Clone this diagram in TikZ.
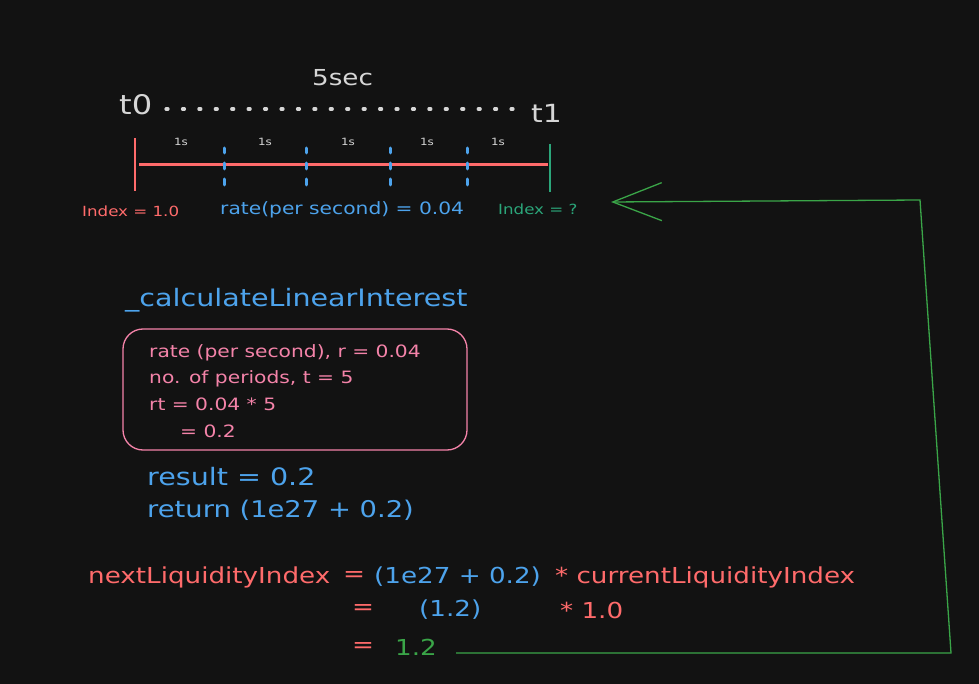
\documentclass[tikz,border=0pt]{standalone}
\usepackage{fontspec}
\setmainfont[FakeStretch=1.19]{DejaVu Sans}
\usetikzlibrary{arrows.meta}
\definecolor{bgc}{HTML}{121212}
\definecolor{wht}{HTML}{D6D6D6}
\definecolor{redc}{HTML}{FF6B6B}
\definecolor{bluc}{HTML}{4DA3EC}
\definecolor{tealc}{HTML}{2BA67A}
\definecolor{grnc}{HTML}{3AA548}
\definecolor{pinkc}{HTML}{F483A9}
\tikzset{
  txt/.style={inner sep=0pt, anchor=west},
  tick/.style={bluc, line width=3pt, line cap=round},
  conn/.style={grnc, line width=1.3pt},
  big/.style={font=\fontsize{22}{26}\selectfont},
  mid/.style={font=\fontsize{17}{20}\selectfont},
  sml/.style={font=\fontsize{14}{16}\selectfont},
}
\begin{document}
\begin{tikzpicture}[x=1pt,y=-1pt]
\fill[bgc] (0,0) rectangle (979,684);
\useasboundingbox (0,0) rectangle (979,684);

% timeline header
\node[txt, wht, font=\fontsize{22}{26}\selectfont] (fivesec) at (312,78) {5sec};
\node[txt, wht, font=\fontsize{27}{30}\selectfont] (t0) at (119,105) {t0};
\node[txt, wht, font=\fontsize{25}{28}\selectfont] (t1) at (531,113) {t1};
\foreach \i in {0,...,21} \draw[wht, line width=3.2pt, line cap=round] (166+\i*16.43,109) -- (168+\i*16.43,109);

% timeline
\coordinate (ra) at (135,138); \coordinate (rb) at (135,191);
\coordinate (la) at (139,165); \coordinate (lb) at (548,165);
\coordinate (ga) at (550,144); \coordinate (gb) at (550,192);
\draw[redc, line width=2.5pt] (ra) -- (rb);
\draw[redc, line width=3pt] (la) -- (lb);
\draw[tealc, line width=2.5pt] (ga) -- (gb);
\foreach \x in {224,306,390,467} {
  \draw[tick] (\x,148) -- (\x,153);
  \draw[tick] (\x,163) -- (\x,169);
  \draw[tick] (\x,179) -- (\x,185);
}
\foreach \x/\n in {181/a,265/b,348/c,427/d,498/e}
  \node[inner sep=0pt, wht, font=\fontsize{10}{12}\selectfont] (s\n) at (\x,142) {1s};

\node[txt, redc, sml] (idx0) at (82,211) {Index = 1.0};
\node[txt, bluc, mid] (rate) at (220,210) {rate(per second) = 0.04};
\node[txt, tealc, sml] (idx1) at (498,209) {Index = ?};

% function
\node[txt, bluc, font=\fontsize{24}{28}\selectfont] (fn) at (125,300) {\_calculateLinearInterest};
\node[draw=pinkc, line width=1.3pt, rounded corners=20pt, minimum width=344pt, minimum height=121pt, inner sep=0pt] (box) at (295,389.5) {};
\node[txt, pinkc, mid] (b1) at (149,353) {rate (per second), r = 0.04};
\node[txt, pinkc, mid] (b2) at (149,379) {no. of periods, t = 5};
\node[txt, pinkc, mid] (b3) at (149,404) {rt = 0.04 * 5};
\node[txt, pinkc, mid] (b4) at (180,431) {= 0.2};
\node[txt, bluc, font=\fontsize{24}{28}\selectfont] (res) at (147,477) {result = 0.2};
\node[txt, bluc, font=\fontsize{23}{26}\selectfont] (ret) at (147,510) {return (1e27 + 0.2)};

% bottom formula
\node[txt, redc, big] (nl) at (88,577) {nextLiquidityIndex};
\node[txt, redc, big] (e1) at (343,577) {=};
\node[txt, bluc, big] (p1) at (374,577) {(1e27 + 0.2)};
\node[txt, redc, big] (p2) at (555,577) {* currentLiquidityIndex};
\node[txt, redc, big] (e2) at (352,610) {=};
\node[txt, bluc, big] (v2) at (419,610) {(1.2)};
\node[txt, redc, big] (m2) at (560,610) {* 1.0};
\node[txt, redc, big] (e3) at (352,647) {=};
\node[txt, grnc, big] (v3) at (395,647) {1.2};

% feedback arrow
\coordinate (c1) at (456,653);
\coordinate (c2) at (951,653);
\coordinate (c3) at (920,200);
\coordinate (tip) at (611,202);
\draw[conn, -{Straight Barb[length=49pt,width=38pt]}] (c1) -- (c2) -- (c3) -- (tip);
\end{tikzpicture}
\end{document}
